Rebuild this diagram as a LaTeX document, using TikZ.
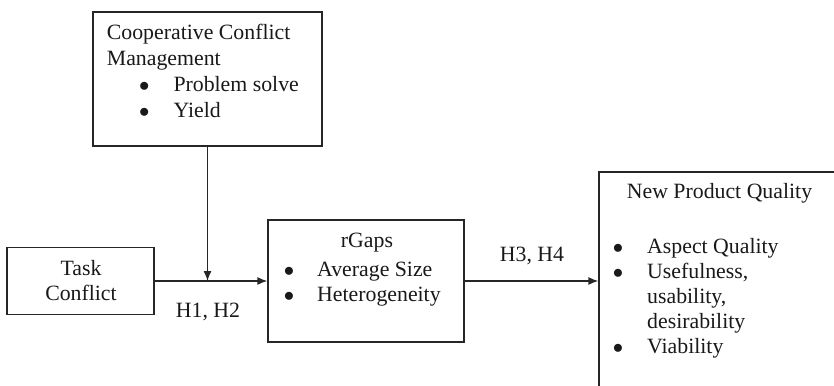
\documentclass[tikz,border=0pt]{standalone}
\usepackage{fontspec}
\setmainfont{Liberation Serif}
\usetikzlibrary{arrows.meta,positioning}

\begin{document}
\begin{tikzpicture}
	[
		x=1pt, y=-1pt,
		B/.style = {rectangle, draw=black!85, line width=1.3pt, fill=none, inner sep=0pt},
		T/.style = {inner sep=0pt, anchor=base west, text=black!90, font=\fontsize{21.8}{26}\selectfont},
		C/.style = {T, anchor=base},
		E/.style = {draw=black!85, line width=1.3pt, -{Latex[length=10pt,width=8pt]}},
	]
	\useasboundingbox (0,0) rectangle (834,385);
	\clip (0,0) rectangle (834,385);

	% boxes
	\node[B, minimum width=229pt, minimum height=134pt] (ccm)   at (207.5, 79.0) {};
	\node[B, minimum width=147pt, minimum height=67pt]  (task)  at ( 80.5,281.0) {};
	\node[B, minimum width=196pt, minimum height=122pt] (rgaps) at (366.0,281.0) {};
	\node[B, minimum width=281pt, minimum height=258pt] (npq)   at (739.5,301.0) {};

	% cooperative conflict management
	\node[T] (ccm1) at (106.7, 39.5) {Cooperative Conflict};
	\node[T] (ccm2) at (106.7, 65.5) {Management};
	\node[C] (ccmb1) at (144.3, 91.5) {$\bullet$};
	\node[T] (ccm3) at (173.3, 91.5) {Problem solve};
	\node[C] (ccmb2) at (144.3,117.5) {$\bullet$};
	\node[T] (ccm4) at (173.3,117.5) {Yield};

	% task conflict
	\node[C] (task1) at (81.0,275.0) {Task};
	\node[C] (task2) at (81.0,300.5) {Conflict};

	% rgaps
	\node[C] (rg1)  at (367.0,247.0) {rGaps};
	\node[C] (rgb1) at (289.0,276.0) {$\bullet$};
	\node[T] (rg2)  at (317.0,276.0) {Average Size};
	\node[C] (rgb2) at (289.0,301.5) {$\bullet$};
	\node[T] (rg3)  at (317.0,301.5) {Heterogeneity};

	% new product quality
	\node[C] (np1)  at (719.5,198.0) {New Product Quality};
	\node[C] (npb1) at (618.0,253.0) {$\bullet$};
	\node[T] (np2)  at (647.0,253.0) {Aspect Quality};
	\node[C] (npb2) at (618.0,278.0) {$\bullet$};
	\node[T] (np3)  at (647.0,278.0) {Usefulness,};
	\node[T] (np4)  at (647.0,303.0) {usability,};
	\node[T] (np5)  at (647.0,328.0) {desirability};
	\node[C] (npb3) at (618.0,353.5) {$\bullet$};
	\node[T] (np6)  at (647.0,353.5) {Viability};

	% hypotheses
	\node[C] (h12) at (208.0,317.0) {H1, H2};
	\node[C] (h34) at (532.0,261.0) {H3, H4};

	\coordinate (join) at (ccm.south |- task.east);

	\draw[E] (task.east) -- (rgaps.west);
	\draw[E] (ccm.south) -- (join);
	\draw[E] (rgaps.east) -- (rgaps.east -| npq.west);

\end{tikzpicture}
\end{document}
